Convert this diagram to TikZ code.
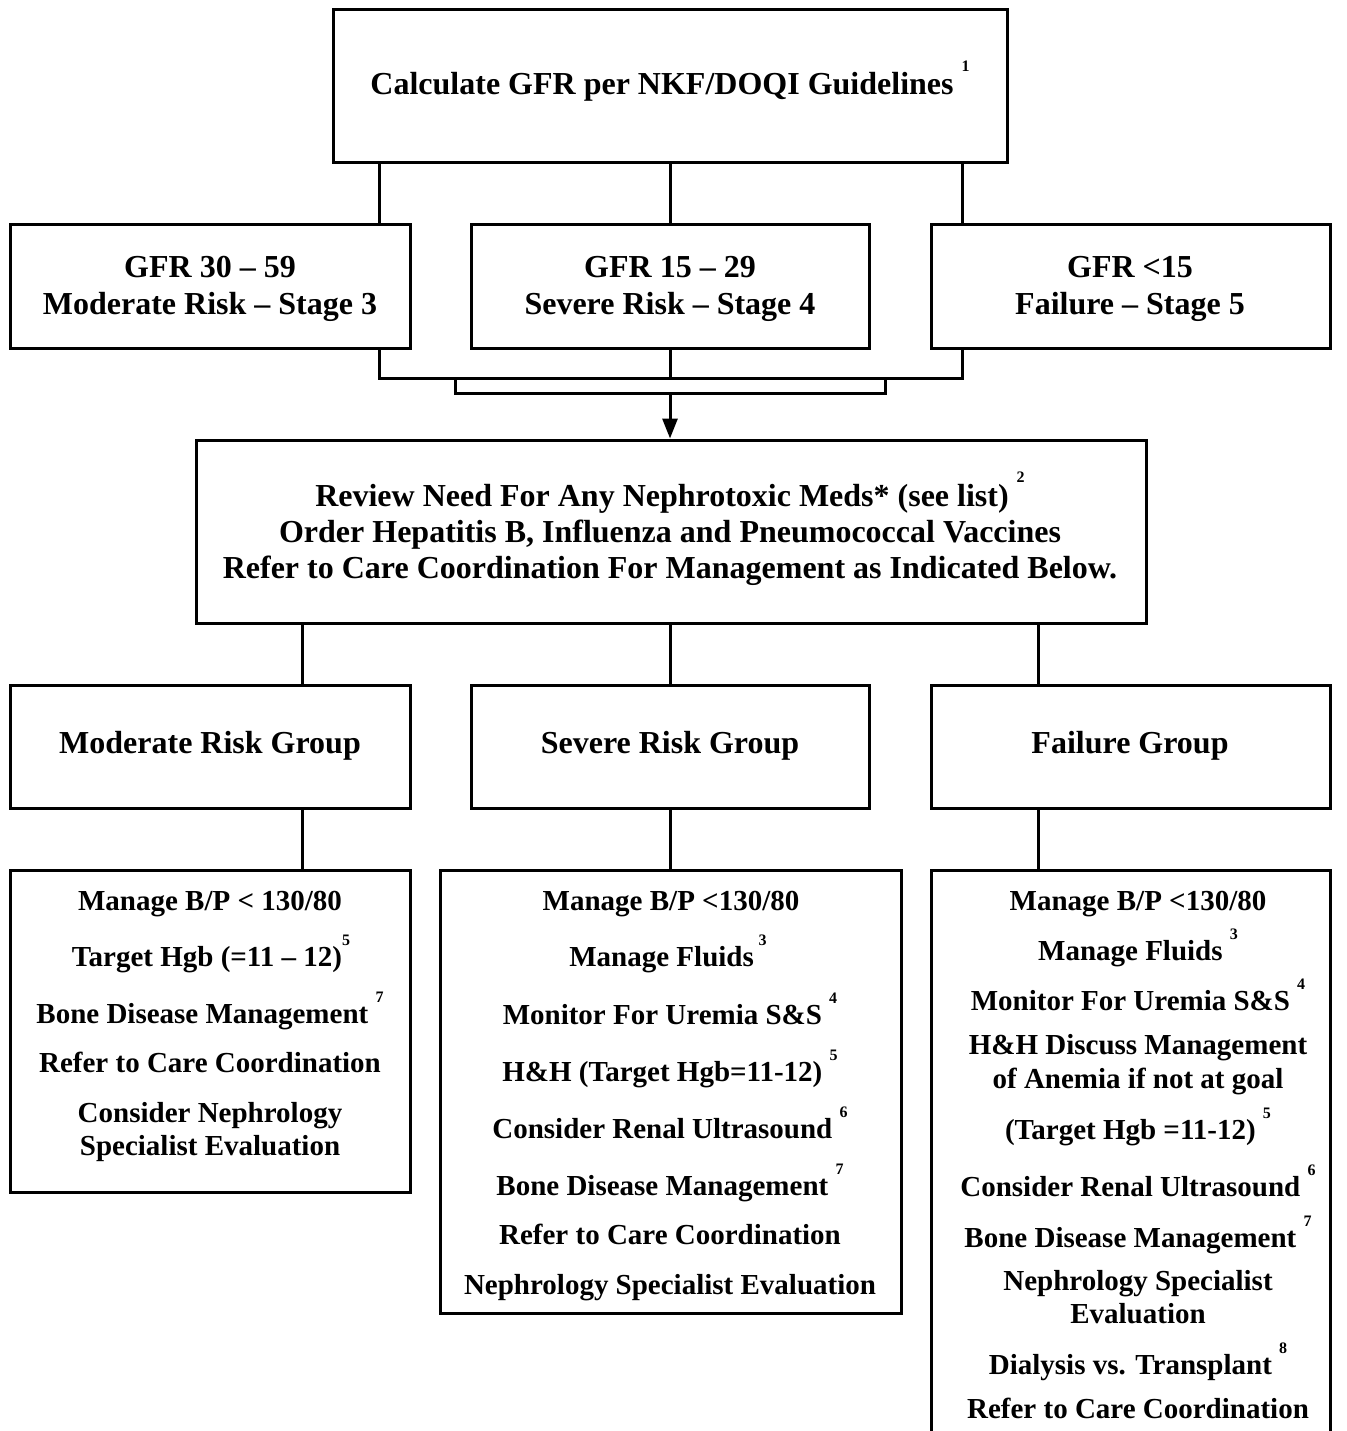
\documentclass[tikz,border=0pt]{standalone}
\usepackage{fontspec}
\setmainfont{Liberation Serif}
\usetikzlibrary{arrows.meta}
\newcommand{\bigf}{\fontsize{32}{37}\selectfont\bfseries}
\newcommand{\smf}{\fontsize{29}{33}\selectfont\bfseries}
\newcommand{\sups}[1]{\raisebox{0.72em}{\fontsize{16}{16}\selectfont\bfseries #1}}
\begin{document}
\begin{tikzpicture}[x=1pt,y=-1pt,
  box/.style={draw, line width=3pt, rectangle, inner sep=0pt},
  conn/.style={line width=3pt},
  arr/.style={line width=3pt, -{Triangle[length=20pt,width=15pt]}},
  bt/.style={anchor=base, inner sep=0pt, font=\bigf},
  st/.style={anchor=base, inner sep=0pt, font=\smf}]
\useasboundingbox (0,0) rectangle (1346,1431);
\fill[white] (0,0) rectangle (1346,1431);
% boxes
\node[box, minimum width=674pt, minimum height=153pt] (top) at (670,86.5) {};
\node[box, minimum width=400pt, minimum height=123pt] (gfrL) at (210,286.5) {};
\node[box, minimum width=398pt, minimum height=123pt] (gfrM) at (670,286.5) {};
\node[box, minimum width=399pt, minimum height=123pt] (gfrR) at (1130.5,286.5) {};
\node[box, minimum width=950pt, minimum height=183pt] (review) at (671,531.5) {};
\node[box, minimum width=400pt, minimum height=123pt] (grpL) at (210,746.5) {};
\node[box, minimum width=398pt, minimum height=123pt] (grpM) at (670,746.5) {};
\node[box, minimum width=399pt, minimum height=123pt] (grpR) at (1130.5,746.5) {};
\node[box, minimum width=400pt, minimum height=322pt] (actL) at (210,1031) {};
\node[box, minimum width=461pt, minimum height=443pt] (actM) at (670.5,1091.5) {};
\node[box, minimum width=399pt, minimum height=590pt] (actR) at (1130.5,1165) {};
% texts
\node[bt] (t0) at (670,95) {Calculate GFR per NKF/DOQI Guidelines \sups{1}};
\node[bt] (t1a) at (210,277) {GFR 30 -- 59};
\node[bt] (t1b) at (210,314) {Moderate Risk -- Stage 3};
\node[bt] (t2a) at (670,277) {GFR 15 -- 29};
\node[bt] (t2b) at (670,314) {Severe Risk -- Stage 4};
\node[bt] (t3a) at (1130,277) {GFR <15};
\node[bt] (t3b) at (1130,314) {Failure -- Stage 5};
\node[bt] (r1) at (670,506) {Review Need For Any Nephrotoxic Meds* (see list) \sups{2}};
\node[bt] (r2) at (670,542) {Order Hepatitis B, Influenza and Pneumococcal Vaccines};
\node[bt] (r3) at (670,578) {Refer to Care Coordination For Management as Indicated Below.};
\node[bt] (g1) at (210,753) {Moderate Risk Group};
\node[bt] (g2) at (670,753) {Severe Risk Group};
\node[bt] (g3) at (1130,753) {Failure Group};
% left actions
\node[st] (l1) at (210,910) {Manage B/P < 130/80};
\node[st] (l2) at (211,966) {Target Hgb (=11 -- 12)\sups{5}};
\node[st] (l3) at (210,1023) {Bone Disease Management \sups{7}};
\node[st] (l4) at (210,1072) {Refer to Care Coordination};
\node[st] (l5) at (210,1122) {Consider Nephrology};
\node[st] (l6) at (210,1155) {Specialist Evaluation};
% middle actions
\node[st] (m1) at (671,910) {Manage B/P <130/80};
\node[st] (m2) at (668,966) {Manage Fluids\,\sups{3}};
\node[st] (m3) at (670,1024) {Monitor For Uremia S\&S \sups{4}};
\node[st] (m4) at (670,1081) {H\&H (Target Hgb=11-12) \sups{5}};
\node[st] (m5) at (670,1138) {Consider Renal Ultrasound \sups{6}};
\node[st] (m6) at (670,1195) {Bone Disease Management \sups{7}};
\node[st] (m7) at (670,1244) {Refer to Care Coordination};
\node[st] (m8) at (670,1294) {Nephrology Specialist Evaluation};
% right actions
\node[st] (q1) at (1138,910) {Manage B/P <130/80};
\node[st] (q2) at (1138,960) {Manage Fluids \sups{3}};
\node[st] (q3) at (1138,1010) {Monitor For Uremia S\&S \sups{4}};
\node[st] (q4) at (1138,1054) {H\&H Discuss Management};
\node[st] (q5) at (1138,1088) {of Anemia if not at goal};
\node[st] (q6) at (1138,1139) {(Target Hgb =11-12) \sups{5}};
\node[st] (q7) at (1138,1196) {Consider Renal Ultrasound \sups{6}};
\node[st] (q8) at (1138,1247) {Bone Disease Management \sups{7}};
\node[st] (q9) at (1138,1290) {Nephrology Specialist};
\node[st] (q10) at (1138,1323) {Evaluation};
\node[st] (q11) at (1138,1374) {Dialysis vs. Transplant \sups{8}};
\node[st] (q12) at (1138,1418) {Refer to Care Coordination};
% helper coordinates
\coordinate (xL) at (379,0);
\coordinate (xM) at (670,0);
\coordinate (xR) at (962,0);
\coordinate (yJ) at (0,378);
\coordinate (yK) at (0,393);
\coordinate (bL) at (455,0);
\coordinate (bR) at (885,0);
\coordinate (gL) at (302,0);
\coordinate (gR) at (1038,0);
% connectors
\draw[conn] (top.south -| xL) -- (gfrL.north -| xL);
\draw[conn] (top.south -| xM) -- (gfrM.north -| xM);
\draw[conn] (top.south -| xR) -- (gfrR.north -| xR);
\draw[conn] (gfrL.south -| xL) |- (yJ -| xR) -- (gfrR.south -| xR);
\draw[conn] (gfrM.south -| xM) -- (yJ -| xM);
\draw[conn] (yJ -| bL) |- (yK -| bR) -- (yJ -| bR);
\draw[arr] (yK -| xM) -- (review.north -| xM);
\draw[conn] (review.south -| gL) -- (grpL.north -| gL);
\draw[conn] (review.south -| xM) -- (grpM.north -| xM);
\draw[conn] (review.south -| gR) -- (grpR.north -| gR);
\draw[conn] (grpL.south -| gL) -- (actL.north -| gL);
\draw[conn] (grpM.south -| xM) -- (actM.north -| xM);
\draw[conn] (grpR.south -| gR) -- (actR.north -| gR);
\end{tikzpicture}
\end{document}
